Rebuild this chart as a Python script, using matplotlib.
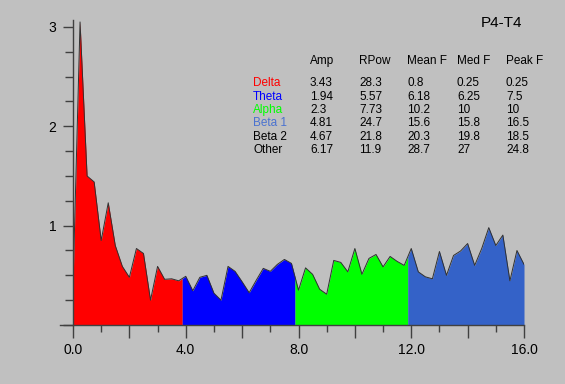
import numpy as np
import matplotlib
matplotlib.use("Agg")
import matplotlib.pyplot as plt
from matplotlib.ticker import MultipleLocator, FuncFormatter

# spectrum, 0.25 Hz resolution, 0..16 Hz
freq = np.arange(0, 16.01, 0.25)
amp = [0.40, 3.05, 1.50, 1.44, 0.85, 1.23, 0.80, 0.59, 0.48, 0.77, 0.72, 0.25,
       0.59, 0.46, 0.465, 0.445,
       0.49, 0.345, 0.48, 0.50, 0.32, 0.25, 0.59, 0.54, 0.435, 0.325, 0.45,
       0.57, 0.54, 0.61, 0.66, 0.62,
       0.35, 0.575, 0.51, 0.36, 0.31, 0.65, 0.63, 0.535, 0.77, 0.51, 0.67,
       0.71, 0.585, 0.69, 0.64, 0.60,
       0.77, 0.535, 0.485, 0.465, 0.74, 0.50, 0.70, 0.745, 0.82, 0.60, 0.77,
       0.98, 0.80, 0.905, 0.445, 0.75, 0.61]

band_edges = [0, 3.875, 7.875, 11.875, 16]
band_colors = ['#ff0000', '#0000ff', '#00ff00', '#3462c8']

# table of band stats
row_names = ['Delta', 'Theta', 'Alpha', 'Beta 1', 'Beta 2', 'Other']
row_colors = ['#ff0000', '#0000ff', '#00ff00', '#4a72d0', 'black', 'black']
col_names = ['Amp', 'RPow', 'Mean F', 'Med F', 'Peak F']
amp_col = ['3.43', '1.94', '2.3', '4.81', '4.67', '6.17']
rpow_col = ['28.3', '5.57', '7.73', '24.7', '21.8', '11.9']
meanf_col = ['0.8', '6.18', '10.2', '15.6', '20.3', '28.7']
medf_col = ['0.25', '6.25', '10', '15.8', '19.8', '27']
peakf_col = ['0.25', '7.5', '10', '16.5', '18.5', '24.8']

plt.rcParams['font.family'] = ['Liberation Sans', 'DejaVu Sans']
bg = '#c0c0c0'
W, H = 565, 384
fig = plt.figure(figsize=(W / 100, H / 100), dpi=100, facecolor=bg)
ax = fig.add_axes([73 / W, 1 - 325 / H, (524 - 73) / W, (325 - 17) / H])
ax.set_facecolor(bg)

amp_arr = np.array(amp)
for i in range(len(band_colors)):
    lo, hi = band_edges[i], band_edges[i + 1]
    inside = (freq > lo) & (freq < hi)
    xs = np.concatenate([[lo], freq[inside], [hi]])
    ys = np.interp(xs, freq, amp_arr)
    ax.fill_between(xs, 0, ys, color=band_colors[i], lw=0)
ax.plot(freq, amp_arr, color='#303030', lw=0.7)

ax.set_xlim(0, 16)
ax.set_ylim(0, 3.1)
for s in ['top', 'right']:
    ax.spines[s].set_visible(False)
for s in ['left', 'bottom']:
    ax.spines[s].set_color('#404040')
    ax.spines[s].set_linewidth(1.0)
ax.spines['bottom'].set_bounds(-0.46, 16)
ax.spines['left'].set_bounds(0, 3.07)

ax.xaxis.set_major_locator(MultipleLocator(2))
ax.xaxis.set_minor_locator(MultipleLocator(1))
ax.xaxis.set_major_formatter(FuncFormatter(lambda v, p: '%.1f' % v if v % 4 == 0 else ''))
ax.yaxis.set_major_locator(MultipleLocator(1))
ax.yaxis.set_minor_locator(MultipleLocator(0.25))
ax.yaxis.set_major_formatter(FuncFormatter(lambda v, p: '%d' % v if v > 0 else ''))
ax.tick_params(axis='x', which='major', length=9, width=1, color='#404040',
               labelsize=10, pad=4)
ax.tick_params(axis='x', which='minor', length=5, width=1, color='#404040')
ax.tick_params(axis='y', which='major', length=7, width=1, color='#404040',
               labelsize=10, pad=5)
ax.tick_params(axis='y', which='minor', length=6, width=1, color='#404040')

fig.text(501 / W, 1 - 23 / H, 'P4-T4', fontsize=11, ha='center', va='center')

col_x = [310, 359, 407, 457, 506]
row_y = [83, 96.5, 110, 123.5, 137, 150.5]
head_y = 61
fs = 8.5
for x, name in zip(col_x, col_names):
    fig.text(x / W, 1 - head_y / H, name, fontsize=fs, va='center')
cols = [amp_col, rpow_col, meanf_col, medf_col, peakf_col]
for r, (name, c) in enumerate(zip(row_names, row_colors)):
    y = 1 - row_y[r] / H
    fig.text(253 / W, y, name, fontsize=fs, color=c, va='center')
    for x, col in zip(col_x, cols):
        fig.text(x / W, y, col[r], fontsize=fs, va='center')

fig.savefig('out.png', dpi=100, facecolor=bg)
